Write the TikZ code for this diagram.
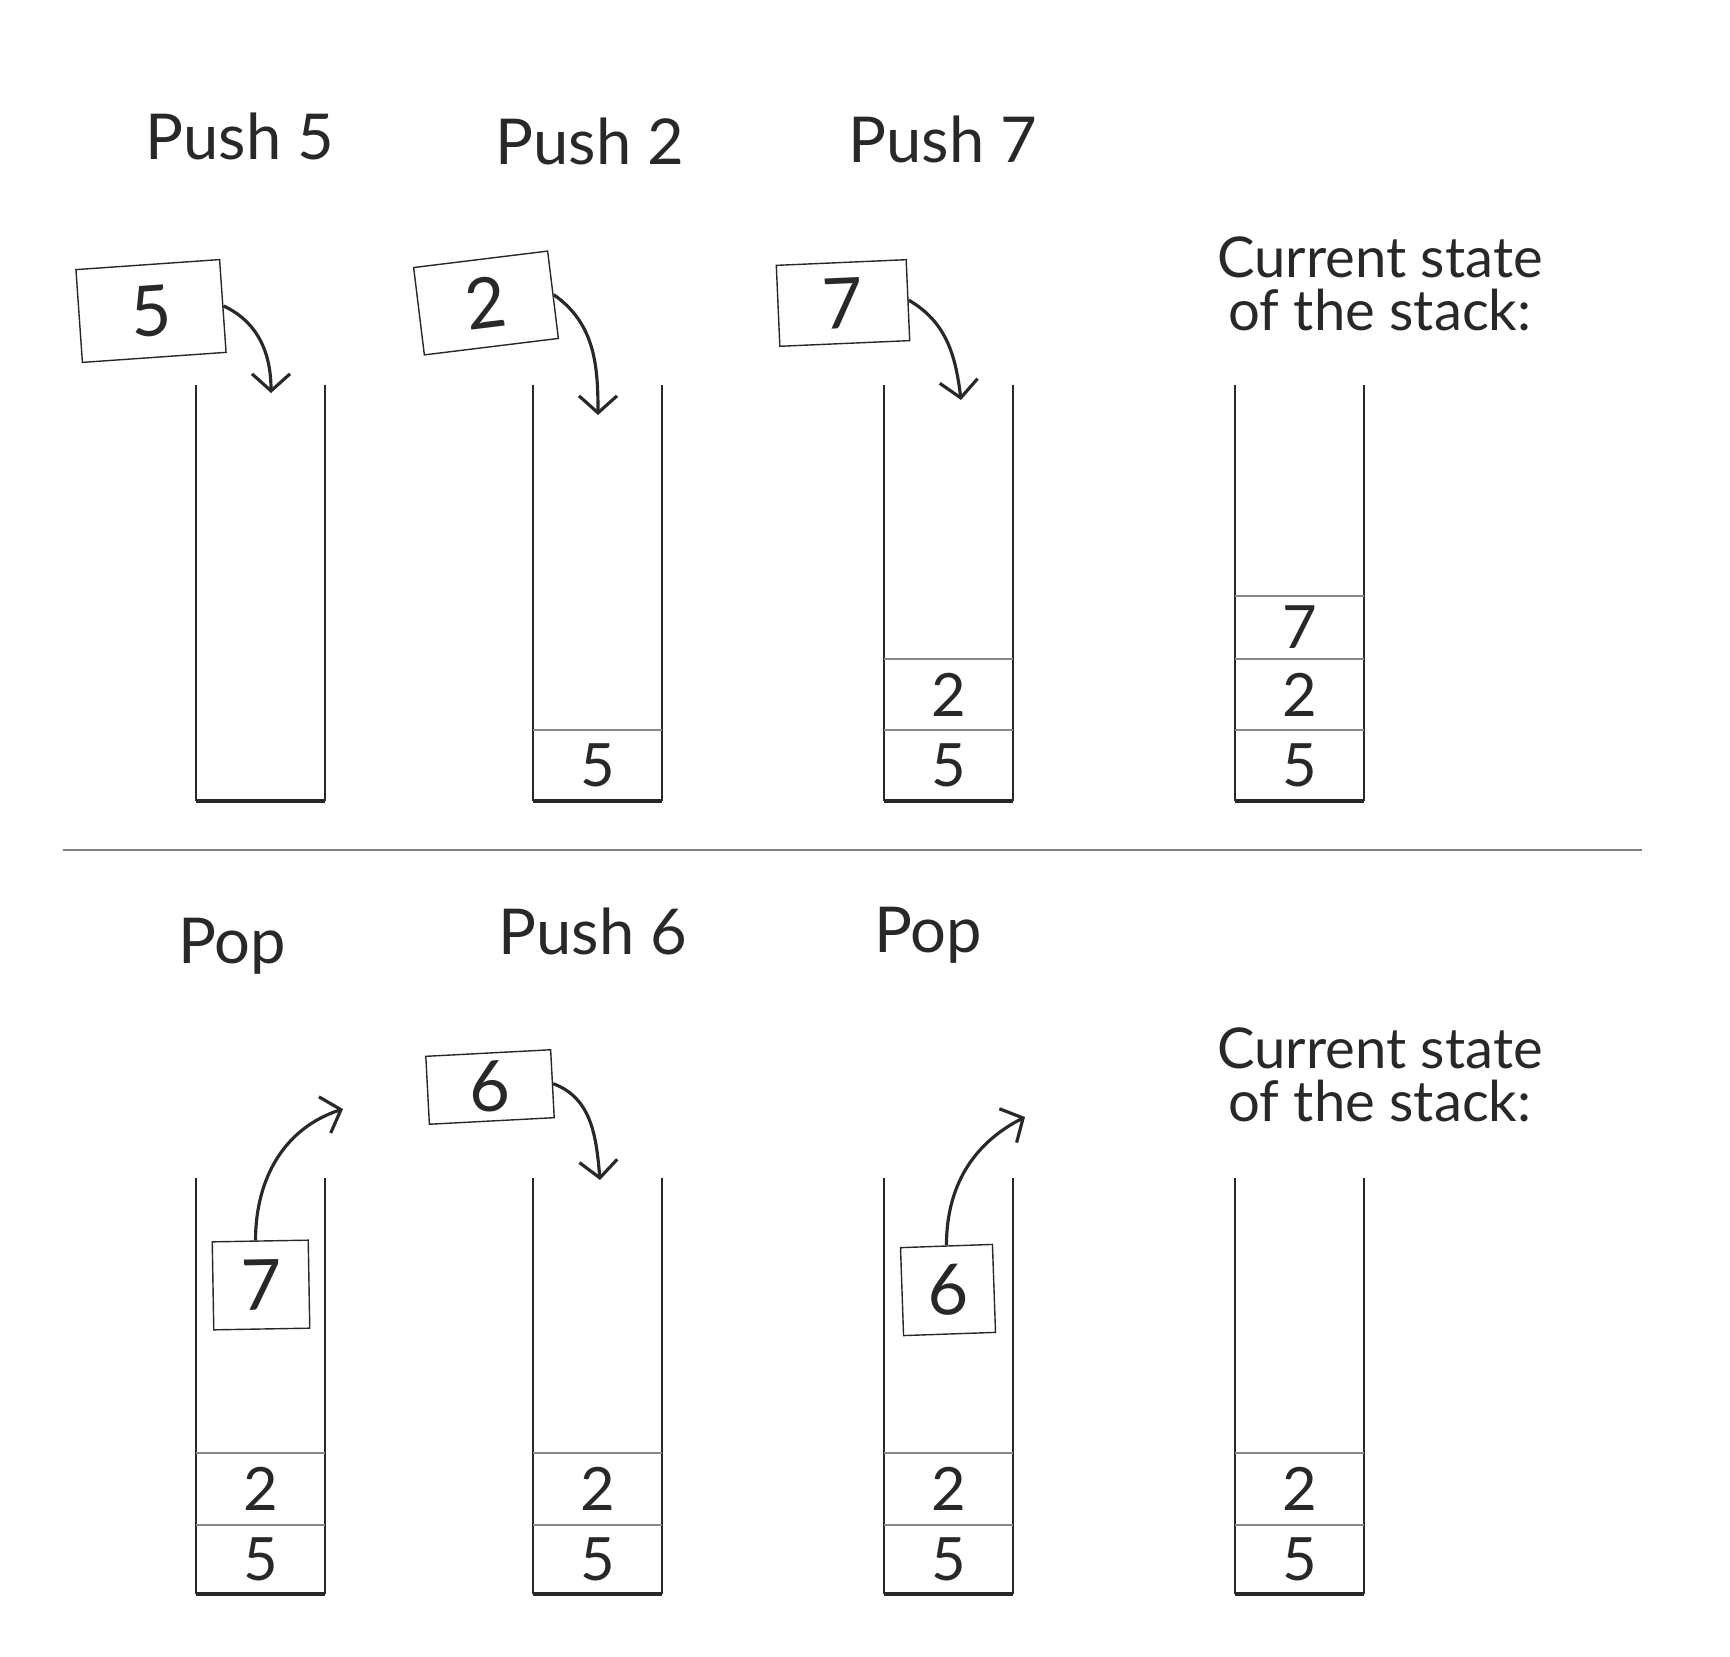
\documentclass[tikz,border=0pt]{standalone}
\usepackage{fontspec}
\setmainfont{Lato}
\usetikzlibrary{arrows.meta}
\definecolor{ink}{RGB}{40,40,40}

\begin{document}
\begin{tikzpicture}
  [
    >={Straight Barb[length=1.7mm,width=3.8mm]},
    wall/.style={draw=ink,line width=0.65pt},
    floor/.style={draw=ink,line width=1pt},
    divider/.style={draw=ink!55,line width=0.35pt},
    cell/.style={font=\fontsize{17}{20}\selectfont,text=ink},
    card/.style={draw=ink,line width=0.4pt,inner sep=0pt,font=\fontsize{20}{24}\selectfont,text=ink},
    move/.style={->,draw=ink,line width=0.9pt},
    caption/.style={font=\fontsize{18}{22}\selectfont,text=ink,anchor=base},
    state/.style={font=\fontsize{16}{15}\selectfont,text=ink,align=center},
  ]
  \useasboundingbox (0,0) rectangle (17.30,16.56);

  % top row: three pushes
  \begin{scope}
  [xshift=1.96cm]
    \draw [wall] (0,12.71) -- (0,8.55);
    \draw [wall] (1.29,12.71) -- (1.29,8.55);
    \draw [floor] (0,8.55) -- (1.29,8.55);
    \node [caption] (push5) at (0.44,14.96) {Push 5};
    \node [card,minimum width=1.44cm,minimum height=0.93cm,rotate=4] (c5) at (-0.45,13.45) {5};
    \coordinate (t5) at (0.75,12.63);
    \draw [move] (c5.east) to [out=-25,in=90] (t5);
  \end{scope}

  \begin{scope}
  [xshift=5.33cm]
    \draw [wall] (0,12.71) -- (0,8.55);
    \draw [wall] (1.29,12.71) -- (1.29,8.55);
    \draw [floor] (0,8.55) -- (1.29,8.55);
    \draw [divider] (0,9.26) -- (1.29,9.26);
    \node [cell] (b5) at (0.645,8.905) {5};
    \node [caption] (push2) at (0.57,14.91) {Push 2};
    \node [card,minimum width=1.35cm,minimum height=0.88cm,rotate=7] (c2) at (-0.47,13.53) {2};
    \coordinate (t2) at (0.65,12.41);
    \draw [move] (c2.east) to [out=-35,in=90] (t2);
  \end{scope}

  \begin{scope}
  [xshift=8.84cm]
    \draw [wall] (0,12.71) -- (0,8.55);
    \draw [wall] (1.29,12.71) -- (1.29,8.55);
    \draw [floor] (0,8.55) -- (1.29,8.55);
    \draw [divider] (0,9.26) -- (1.29,9.26);
    \draw [divider] (0,9.97) -- (1.29,9.97);
    \node [cell] (d5) at (0.645,8.905) {5};
    \node [cell] (d2) at (0.645,9.615) {2};
    \node [caption] (push7) at (0.59,14.93) {Push 7};
    \node [card,minimum width=1.30cm,minimum height=0.81cm,rotate=2.5] (c7) at (-0.41,13.53) {7};
    \coordinate (t7) at (0.77,12.56);
    \draw [move] (c7.east) to [out=-30,in=97] (t7);
  \end{scope}

  \begin{scope}
  [xshift=12.35cm]
    \draw [wall] (0,12.71) -- (0,8.55);
    \draw [wall] (1.29,12.71) -- (1.29,8.55);
    \draw [floor] (0,8.55) -- (1.29,8.55);
    \draw [divider] (0,9.26) -- (1.29,9.26);
    \draw [divider] (0,9.97) -- (1.29,9.97);
    \draw [divider] (0,10.60) -- (1.29,10.60);
    \node [cell] (e5) at (0.645,8.905) {5};
    \node [cell] (e2) at (0.645,9.615) {2};
    \node [cell] (e7) at (0.645,10.285) {7};
    \node [state] (now1) at (1.45,13.72) {Current state\\of the stack:};
  \end{scope}

  \draw [draw=black!50,line width=0.6pt] (0.63,8.06) -- (16.42,8.06);

  % bottom row: pop, push, pop
  \begin{scope}
  [xshift=1.96cm]
    \draw [wall] (0,4.78) -- (0,0.62);
    \draw [wall] (1.29,4.78) -- (1.29,0.62);
    \draw [floor] (0,0.62) -- (1.29,0.62);
    \draw [divider] (0,1.31) -- (1.29,1.31);
    \draw [divider] (0,2.03) -- (1.29,2.03);
    \node [cell] (f5) at (0.645,0.965) {5};
    \node [cell] (f2) at (0.645,1.67) {2};
    \node [caption] (pop1) at (0.36,6.93) {Pop};
    \node [card,minimum width=0.96cm,minimum height=0.88cm,rotate=1] (p7) at (0.65,3.71) {7};
    \coordinate (u7) at (1.47,5.47);
    \draw [move] (p7.96) to [out=90,in=198] (u7);
  \end{scope}

  \begin{scope}
  [xshift=5.33cm]
    \draw [wall] (0,4.78) -- (0,0.62);
    \draw [wall] (1.29,4.78) -- (1.29,0.62);
    \draw [floor] (0,0.62) -- (1.29,0.62);
    \draw [divider] (0,1.31) -- (1.29,1.31);
    \draw [divider] (0,2.03) -- (1.29,2.03);
    \node [cell] (g5) at (0.645,0.965) {5};
    \node [cell] (g2) at (0.645,1.67) {2};
    \node [caption] (push6) at (0.60,7.02) {Push 6};
    \node [card,minimum width=1.25cm,minimum height=0.68cm,rotate=3] (c6) at (-0.43,5.69) {6};
    \coordinate (t6) at (0.67,4.76);
    \draw [move] (c6.east) to [out=-20,in=95] (t6);
  \end{scope}

  \begin{scope}
  [xshift=8.84cm]
    \draw [wall] (0,4.78) -- (0,0.62);
    \draw [wall] (1.29,4.78) -- (1.29,0.62);
    \draw [floor] (0,0.62) -- (1.29,0.62);
    \draw [divider] (0,1.31) -- (1.29,1.31);
    \draw [divider] (0,2.03) -- (1.29,2.03);
    \node [cell] (h5) at (0.645,0.965) {5};
    \node [cell] (h2) at (0.645,1.67) {2};
    \node [caption] (pop2) at (0.44,7.04) {Pop};
    \node [card,minimum width=0.92cm,minimum height=0.88cm,rotate=2] (p6) at (0.64,3.66) {6};
    \coordinate (u6) at (1.41,5.39);
    \draw [move] (p6.north) to [out=90,in=207] (u6);
  \end{scope}

  \begin{scope}
  [xshift=12.35cm]
    \draw [wall] (0,4.78) -- (0,0.62);
    \draw [wall] (1.29,4.78) -- (1.29,0.62);
    \draw [floor] (0,0.62) -- (1.29,0.62);
    \draw [divider] (0,1.31) -- (1.29,1.31);
    \draw [divider] (0,2.03) -- (1.29,2.03);
    \node [cell] (k5) at (0.645,0.965) {5};
    \node [cell] (k2) at (0.645,1.67) {2};
    \node [state] (now2) at (1.45,5.81) {Current state\\of the stack:};
  \end{scope}

\end{tikzpicture}
\end{document}
